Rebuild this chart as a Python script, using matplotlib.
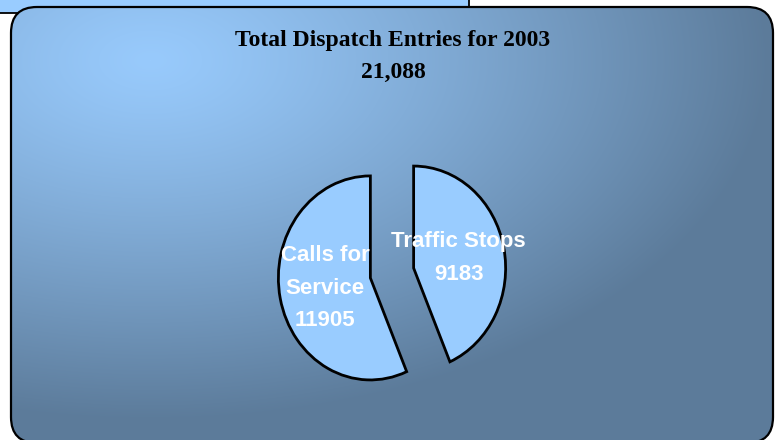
import numpy as np
import matplotlib
matplotlib.use("Agg")
import matplotlib.pyplot as plt
from matplotlib.patches import FancyBboxPatch, Rectangle

title = "Total Dispatch Entries for 2003"
total_label = "21,088"
categories = ["Calls for\nService", "Traffic Stops"]
values = [11905, 9183]
labels = [f"{c}\n{v}" for c, v in zip(categories, values)]

W, H = 775, 440
fig = plt.figure(figsize=(W / 100, H / 100), dpi=100)
fig.patch.set_facecolor("white")
bg = fig.add_axes([0, 0, 1, 1])
bg.axis("off")


def Y(y):  # pixel row (from top) -> axes y
    return H - y


# partial element peeking behind the panel
bg.add_patch(Rectangle((-3, Y(13)), 472, 20, facecolor="#99ccff",
                       edgecolor="black", lw=1.3, zorder=1))

# gradient panel
yy, xx = np.mgrid[0:H, 0:W]
d = np.hypot((xx - 150) / 620, (yy - 60) / 360)
t = (np.clip(d, 0, 1) ** 1.2)[..., None]
light = np.array([152, 202, 252]) / 255
dark = np.array([92, 123, 154]) / 255
img = light * (1 - t) + dark * t
box = FancyBboxPatch((11, Y(443)), 762, 436, boxstyle="round,pad=0,rounding_size=26",
                     facecolor="none", edgecolor="black", lw=1.6, zorder=3)
im = bg.imshow(img, extent=(0, W, 0, H), origin="upper", zorder=2, interpolation="bilinear")
bg.add_patch(box)
im.set_clip_path(box)
bg.set_aspect("auto")
bg.set_xlim(0, W)
bg.set_ylim(0, H)

bg.text(393, Y(46), title, ha="center", va="baseline", family="Liberation Serif",
        fontweight="bold", fontsize=17, color="black", zorder=4)
bg.text(393, Y(77.5), total_label, ha="center", va="baseline", family="Liberation Serif",
        fontweight="bold", fontsize=17, color="black", zorder=4)

# pie
cx, cy = 392, 273
rx, ry = 92, 102
span = 170
ax = fig.add_axes([(cx - span) / W, (H - cy - span) / H, 2 * span / W, 2 * span / H])
wedges, texts = ax.pie(values, labels=labels, startangle=90, counterclock=True,
                       explode=[0.24, 0.24], labeldistance=0.5,
                       wedgeprops=dict(facecolor="#99ccff", edgecolor="black", linewidth=2),
                       textprops=dict(color="white", fontsize=16, fontweight="bold",
                                      family="Liberation Sans", linespacing=1.73))
for tx in texts:
    tx.set_ha("center")
    tx.set_va("center")
    tx.set_multialignment("center")
ax.set_aspect("auto")
ax.set_xlim(-span / rx, span / rx)
ax.set_ylim(-span / ry, span / ry)
ax.axis("off")

fig.savefig("out.png", dpi=100)
